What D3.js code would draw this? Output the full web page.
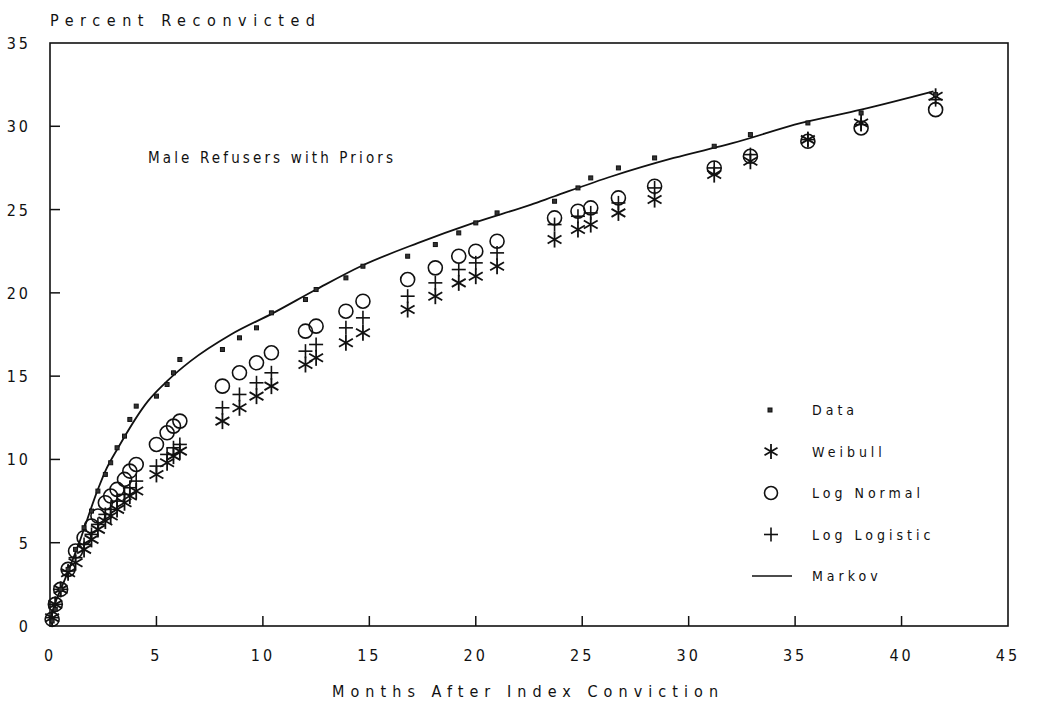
<!DOCTYPE html>
<html>
<head>
<meta charset="utf-8">
<script src="https://cdn.jsdelivr.net/npm/d3@7"></script>
<style>
  body { margin: 0; background: #fff; }
  text { font-family: "Liberation Sans Narrow", "DejaVu Sans Condensed", sans-serif; fill: #111; }
</style>
</head>
<body>
<svg id="chart" width="1040" height="712"></svg>
<script>
// Observation months after the index conviction
const months = [0.1, 0.25, 0.5, 0.85, 1.2, 1.6, 1.95, 2.25, 2.6, 2.85, 3.15, 3.5, 3.75, 4.05,
  5.0, 5.5, 5.8, 6.1, 8.1, 8.9, 9.7, 10.4, 12.0, 12.5, 13.9, 14.7, 16.8, 18.1, 19.2, 20.0,
  21.0, 23.7, 24.8, 25.4, 26.7, 28.4, 31.2, 32.9, 35.6, 38.1, 41.6];

// Observed percent reconvicted
const dataPct = [0.3, 1.0, 2.2, 3.4, 4.6, 5.9, 6.9, 8.1, 9.1, 9.8, 10.7, 11.4, 12.4, 13.2,
  13.8, 14.5, 15.2, 16.0, 16.6, 17.3, 17.9, 18.8, 19.6, 20.2, 20.9, 21.6, 22.2, 22.9, 23.6, 24.2,
  24.8, 25.5, 26.3, 26.9, 27.5, 28.1, 28.8, 29.5, 30.2, 30.8, 31.9];

// Fitted models
const weibull = [0.5, 1.3, 2.2, 3.2, 3.8, 4.6, 5.2, 5.8, 6.3, 6.6, 7.0, 7.4, 7.8, 8.1,
  9.1, 9.8, 10.2, 10.5, 12.3, 13.1, 13.8, 14.4, 15.7, 16.1, 17.0, 17.6, 19.0, 19.8, 20.6, 21.0,
  21.6, 23.2, 23.8, 24.1, 24.8, 25.6, 27.1, 27.9, 29.2, 30.2, 31.8];

const logNormal = [0.4, 1.3, 2.2, 3.4, 4.5, 5.3, 6.0, 6.6, 7.4, 7.8, 8.2, 8.8, 9.3, 9.7,
  10.9, 11.6, 12.0, 12.3, 14.4, 15.2, 15.8, 16.4, 17.7, 18.0, 18.9, 19.5, 20.8, 21.5, 22.2, 22.5,
  23.1, 24.5, 24.9, 25.1, 25.7, 26.4, 27.5, 28.2, 29.1, 29.9, 31.0];

const logLogistic = [0.5, 1.3, 2.2, 3.3, 4.1, 4.9, 5.5, 6.1, 6.7, 7.0, 7.5, 7.9, 8.3, 8.7,
  9.6, 10.3, 10.7, 10.9, 13.1, 13.9, 14.6, 15.2, 16.5, 16.9, 17.9, 18.5, 19.8, 20.6, 21.4, 21.8,
  22.4, 24.1, 24.6, 24.8, 25.4, 26.3, 27.5, 28.3, 29.2, 30.1, 31.6];

// Markov model curve
const markovMonths = [0.0, 0.25, 0.7, 1.3, 2.25, 2.6, 3.2, 4.6, 5.5, 6.6, 8.5, 10.5, 12.5, 14.6,
  17.3, 19.9, 22.6, 23.7, 26.4, 29.3, 32.1, 35.3, 38.1, 41.5];
const markovPct = [0.4, 1.4, 2.8, 4.75, 8.2, 9.3, 10.7, 13.5, 14.7, 15.9, 17.5, 18.8, 20.2, 21.6,
  23.0, 24.2, 25.3, 25.8, 27.0, 28.1, 29.0, 30.2, 31.0, 32.1];

const xTicks = [0, 5, 10, 15, 20, 25, 30, 35, 40, 45];
const yTicks = [0, 5, 10, 15, 20, 25, 30, 35];
const legendLabels = ["Data", "Weibull", "Log Normal", "Log Logistic", "Markov"];

const svg = d3.select("#chart");
const plotLeft = 50, plotRight = 1008, plotTop = 43, plotBottom = 626;

const x = d3.scaleLinear().domain([0, 45]).range([plotLeft, plotRight]);
const y = d3.scaleLinear().domain([0, 35]).range([plotBottom, plotTop]);

const ink = "#111";

// Frame
svg.append("rect")
  .attr("x", plotLeft).attr("y", plotTop)
  .attr("width", plotRight - plotLeft).attr("height", plotBottom - plotTop)
  .attr("fill", "none").attr("stroke", ink).attr("stroke-width", 1.6);

// Inward ticks
svg.append("g").selectAll("line").data(xTicks.filter(d => d > 0 && d < 45)).join("line")
  .attr("x1", d => x(d)).attr("x2", d => x(d))
  .attr("y1", plotBottom).attr("y2", plotBottom - 10)
  .attr("stroke", ink).attr("stroke-width", 1.5);
svg.append("g").selectAll("line").data(yTicks.filter(d => d > 0 && d < 35)).join("line")
  .attr("x1", plotLeft).attr("x2", plotLeft + 10)
  .attr("y1", d => y(d)).attr("y2", d => y(d))
  .attr("stroke", ink).attr("stroke-width", 1.5);

// Tick labels
svg.append("g").selectAll("text").data(xTicks).join("text")
  .attr("x", d => x(d)).attr("y", 661)
  .attr("text-anchor", "middle")
  .attr("font-size", 16).attr("letter-spacing", 3)
  .text(d => d);
svg.append("g").selectAll("text").data(yTicks).join("text")
  .attr("x", 31).attr("y", d => y(d) + 6)
  .attr("text-anchor", "end")
  .attr("font-size", 16).attr("letter-spacing", 3)
  .text(d => d);

// Axis titles
svg.append("text")
  .attr("x", 50).attr("y", 26)
  .attr("font-size", 16)
  .attr("textLength", 265).attr("lengthAdjust", "spacing")
  .text("Percent Reconvicted");
svg.append("text")
  .attr("x", 332).attr("y", 697)
  .attr("font-size", 16)
  .attr("textLength", 386).attr("lengthAdjust", "spacing")
  .text("Months After Index Conviction");

// Panel title
svg.append("text")
  .attr("x", 148).attr("y", 163)
  .attr("font-size", 15)
  .attr("textLength", 245).attr("lengthAdjust", "spacing")
  .text("Male Refusers with Priors");

// Symbol drawers
function star(g, cx, cy, r) {
  const angles = [90, 30, 150];
  angles.forEach(a => {
    const rad = a * Math.PI / 180;
    g.append("line")
      .attr("x1", cx - r * Math.cos(rad)).attr("y1", cy - r * Math.sin(rad))
      .attr("x2", cx + r * Math.cos(rad)).attr("y2", cy + r * Math.sin(rad))
      .attr("stroke", ink).attr("stroke-width", 1.8);
  });
}
function plus(g, cx, cy, r) {
  g.append("line").attr("x1", cx - r).attr("x2", cx + r).attr("y1", cy).attr("y2", cy)
    .attr("stroke", ink).attr("stroke-width", 1.6);
  g.append("line").attr("x1", cx).attr("x2", cx).attr("y1", cy - r).attr("y2", cy + r)
    .attr("stroke", ink).attr("stroke-width", 1.6);
}
function ring(g, cx, cy, r) {
  g.append("circle").attr("cx", cx).attr("cy", cy).attr("r", r)
    .attr("fill", "none").attr("stroke", ink).attr("stroke-width", 1.6);
}
function square(g, cx, cy, s) {
  g.append("rect").attr("x", cx - s / 2).attr("y", cy - s / 2)
    .attr("width", s).attr("height", s)
    .attr("fill", "#333").attr("stroke", ink).attr("stroke-width", 1);
}

// Markov curve
const line = d3.line()
  .x((d, i) => x(markovMonths[i]))
  .y(d => y(d))
  .curve(d3.curveMonotoneX);
svg.append("path")
  .attr("d", line(markovPct))
  .attr("fill", "none").attr("stroke", ink).attr("stroke-width", 1.8);

// Model and data markers
const gW = svg.append("g");
months.forEach((m, i) => star(gW, x(m), y(weibull[i]), 8));
const gL = svg.append("g");
months.forEach((m, i) => plus(gL, x(m), y(logLogistic[i]), 7));
const gN = svg.append("g");
months.forEach((m, i) => ring(gN, x(m), y(logNormal[i]), 7));
const gD = svg.append("g");
months.forEach((m, i) => square(gD, x(m), y(dataPct[i]), 4));

// Legend
const legendY = d3.scalePoint().domain(legendLabels).range([410, 576]);
const lg = svg.append("g");
const mx = 771;
square(lg, mx - 1, legendY("Data"), 4);
star(lg, mx, legendY("Weibull"), 7.5);
ring(lg, mx, legendY("Log Normal"), 6.5);
plus(lg, mx, legendY("Log Logistic"), 7);
lg.append("line").attr("x1", 752).attr("x2", 792)
  .attr("y1", legendY("Markov")).attr("y2", legendY("Markov"))
  .attr("stroke", ink).attr("stroke-width", 1.6);
lg.selectAll("text").data(legendLabels).join("text")
  .attr("x", 812).attr("y", d => legendY(d) + 5)
  .attr("font-size", 14).attr("letter-spacing", 4)
  .text(d => d);
</script>
</body>
</html>
